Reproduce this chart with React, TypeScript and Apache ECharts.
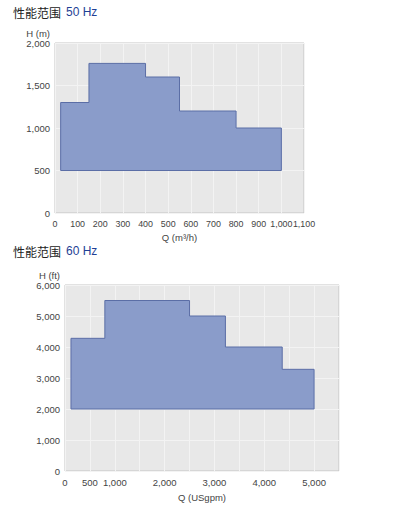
import React, { useEffect, useRef } from "react";
import * as echarts from "echarts";

// 50 Hz performance range (m3/h vs m)
const q50Edges = [25, 150, 400, 550, 800, 1000];
const h50Steps = [1300, 1760, 1600, 1200, 1000];
const h50Base = 500;
const x50Max = 1100;
const y50Max = 2000;

// 60 Hz performance range (USgpm vs ft)
const q60Edges = [120, 800, 2500, 3220, 4360, 5000];
const h60Steps = [4280, 5500, 5000, 4000, 3280];
const h60Base = 2000;
const x60Max = 5500;
const y60Max = 6000;
const x60Labels = [0, 500, 1000, 2000, 3000, 4000, 5000];

const titles = ["性能范围", "50 Hz", "60 Hz"];

function outline(edges: number[], steps: number[], base: number): number[][] {
  const pts: number[][] = [[edges[0], base]];
  for (let i = 0; i < steps.length; i++) {
    pts.push([edges[i], steps[i]]);
    pts.push([edges[i + 1], steps[i]]);
  }
  pts.push([edges[edges.length - 1], base]);
  return pts;
}

const fmt = (v: number) => v.toLocaleString("en-US");

export default function App() {
  const ref = useRef<HTMLDivElement>(null);
  useEffect(() => {
    if (!ref.current) return;
    const chart = echarts.init(ref.current, undefined, { renderer: "svg" });
    const poly50 = outline(q50Edges, h50Steps, h50Base);
    const poly60 = outline(q60Edges, h60Steps, h60Base);
    const font = "Liberation Sans, Arial, sans-serif";
    const labelStyle = { fontSize: 9.5, color: "#444", fontFamily: font };
    const polySeries = (pts: number[][], idx: number) => ({
      type: "custom",
      xAxisIndex: idx,
      yAxisIndex: idx,
      data: pts,
      renderItem: (params: any, api: any) => {
        if (params.dataIndex !== 0) return null;
        return {
          type: "polygon",
          shape: { points: pts.map((p) => api.coord(p)) },
          style: { fill: "#8a9cca", stroke: "#5b6ea6", lineWidth: 1 },
        };
      },
    });
    const titleRich = {
      a: { fontSize: 12, color: "#222", fontFamily: "Noto Sans CJK SC", fontWeight: "normal" },
      b: { fontSize: 12, color: "#1f3f95", fontFamily: font, fontWeight: "normal" },
    };
    chart.setOption({
      animation: false,
      backgroundColor: "#ffffff",
      title: [
        { text: `{a|${titles[0]}} {b|${titles[1]}}`, left: 13, top: 3, padding: 0, textStyle: { rich: titleRich } },
        { text: `{a|${titles[0]}} {b|${titles[2]}}`, left: 13, top: 242, padding: 0, textStyle: { rich: titleRich } },
      ],
      grid: [
        { left: 55, top: 43, width: 249, height: 170, show: true, backgroundColor: "#e8e8e8", borderColor: "#c4c4c4", borderWidth: 1 },
        { left: 65, top: 285, width: 274, height: 186, show: true, backgroundColor: "#e8e8e8", borderColor: "#c4c4c4", borderWidth: 1 },
      ],
      xAxis: [
        {
          gridIndex: 0, type: "value", min: 0, max: x50Max, interval: 100,
          name: "Q (m³/h)", nameLocation: "middle", nameGap: 19,
          nameTextStyle: { ...labelStyle },
          axisLine: { show: false }, axisTick: { show: false },
          axisLabel: {
            ...labelStyle, fontSize: 8.9, margin: 6, showMaxLabel: true, showMinLabel: true, hideOverlap: false,
            formatter: (v: number) => fmt(v),
          },
          splitLine: { show: true, lineStyle: { color: "#f3f3f3", width: 1 } },
        },
        {
          gridIndex: 1, type: "value", min: 0, max: x60Max, interval: 500,
          name: "Q (USgpm)", nameLocation: "middle", nameGap: 21,
          nameTextStyle: { ...labelStyle },
          axisLine: { show: false }, axisTick: { show: false },
          axisLabel: {
            ...labelStyle, margin: 6,
            formatter: (v: number) => (x60Labels.indexOf(v) >= 0 ? fmt(v) : ""),
          },
          splitLine: { show: true, lineStyle: { color: "#f3f3f3", width: 1 } },
        },
      ],
      yAxis: [
        {
          gridIndex: 0, type: "value", min: 0, max: y50Max, interval: 500,
          name: "H (m)", nameLocation: "end", nameGap: 4,
          nameTextStyle: { ...labelStyle, align: "right", padding: [0, 5, 0, 0] },
          axisLine: { show: false }, axisTick: { show: false },
          axisLabel: { ...labelStyle, margin: 5, formatter: (v: number) => fmt(v) },
          splitLine: { show: true, lineStyle: { color: "#f3f3f3", width: 1 } },
        },
        {
          gridIndex: 1, type: "value", min: 0, max: y60Max, interval: 1000,
          name: "H (ft)", nameLocation: "end", nameGap: 4,
          nameTextStyle: { ...labelStyle, align: "right", padding: [0, 5, 0, 0] },
          axisLine: { show: false }, axisTick: { show: false },
          axisLabel: { ...labelStyle, margin: 5, formatter: (v: number) => fmt(v) },
          splitLine: { show: true, lineStyle: { color: "#f3f3f3", width: 1 } },
        },
      ],
      series: [polySeries(poly50, 0), polySeries(poly60, 1)],
    });
    return () => chart.dispose();
  }, []);
  return (
    <div
      ref={ref}
      style={{ position: "fixed", left: 0, top: 0, width: 411, height: 512, background: "#fff" }}
    />
  );
}
